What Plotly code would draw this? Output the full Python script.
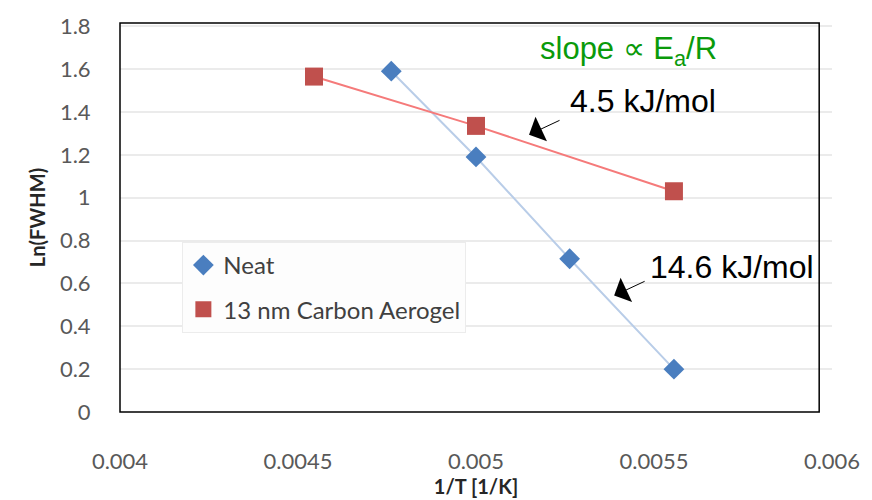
import plotly.graph_objects as go

neat_x = [0.004762, 0.005, 0.005263, 0.005556]
neat_y = [1.59, 1.19, 0.715, 0.2]
aero_x = [0.004545, 0.005, 0.005556]
aero_y = [1.565, 1.335, 1.03]

x_ticks = [0.004, 0.0045, 0.005, 0.0055, 0.006]
x_ticktext = ["0.004", "0.0045", "0.005", "0.0055", "0.006"]
y_ticks = [0, 0.2, 0.4, 0.6, 0.8, 1.0, 1.2, 1.4, 1.6, 1.8]
y_ticktext = ["0", "0.2", "0.4", "0.6", "0.8", "1", "1.2", "1.4", "1.6", "1.8"]

FONT = "Lato"
NEAT_C, NEAT_L = "#4a7ebf", "#b9cde8"
AERO_C, AERO_L = "#c0504d", "#f57a7a"

fig = go.Figure()
fig.add_trace(go.Scatter(
    x=neat_x, y=neat_y, name="Neat", mode="lines+markers", showlegend=False,
    line=dict(color=NEAT_L, width=2),
    marker=dict(symbol="diamond", size=16, color=NEAT_C),
))
fig.add_trace(go.Scatter(
    x=aero_x, y=aero_y, name="13 nm Carbon Aerogel", mode="lines+markers", showlegend=False,
    line=dict(color=AERO_L, width=2),
    marker=dict(symbol="square", size=18, color=AERO_C),
))
# legend entries (marker only, like the reference)
fig.add_trace(go.Scatter(x=[None], y=[None], name="Neat", mode="markers", legendgroup="a",
                         marker=dict(symbol="diamond", size=16, color=NEAT_C)))
fig.add_trace(go.Scatter(x=[None], y=[None], name="13 nm Carbon Aerogel", mode="markers", legendgroup="b",
                         marker=dict(symbol="square", size=18, color=AERO_C)))

fig.update_layout(
    width=872, height=500,
    margin=dict(l=120, r=33, t=16, b=83),
    paper_bgcolor="white", plot_bgcolor="white",
    font=dict(family=FONT, color="#595959"),
    showlegend=True,
    legend=dict(
        x=0.0876, y=0.437, xanchor="left", yanchor="top",
        bgcolor="#fdfdfd", bordercolor="#ececec", borderwidth=1,
        font=dict(family=FONT, size=24, color="#404040"),
        tracegroupgap=10, itemwidth=30,
    ),
    xaxis=dict(
        range=[0.004, 0.006], tickvals=x_ticks, ticktext=x_ticktext,
        showgrid=False, zeroline=False, showline=False,
        tickfont=dict(family=FONT, size=22, color="#595959"),
        ticks="outside", ticklen=30, tickcolor="rgba(0,0,0,0)",
        title=dict(text="<b>1/T [1/K]</b>", font=dict(family=FONT, size=20, color="#262626"), standoff=0),
    ),
    yaxis=dict(
        range=[0, 1.815], tickvals=y_ticks, ticktext=y_ticktext,
        showgrid=True, gridcolor="#ebebeb", gridwidth=1.5, zeroline=False, showline=False,
        tickfont=dict(family=FONT, size=22, color="#595959"),
        ticks="outside", ticklen=24, tickcolor="rgba(0,0,0,0)",
        title=dict(text="<b>Ln(FWHM)</b>", font=dict(family=FONT, size=20, color="#262626"), standoff=8),
    ),
    shapes=[dict(type="rect", xref="paper", yref="paper", x0=0, x1=0.982, y0=0, y1=1,
                 line=dict(color="black", width=1.5))],
    annotations=[
        dict(x=0.005427, y=1.683, xref="x", yref="y", showarrow=False,
             text="slope \u221d E<sub>a</sub>/R", font=dict(family="Liberation Sans", size=31, color="#0a9a0a")),
        dict(x=0.005470, y=1.45, xref="x", yref="y", showarrow=False,
             text="4.5 kJ/mol", font=dict(family="Liberation Sans", size=32, color="black")),
        dict(x=0.005718, y=0.675, xref="x", yref="y", showarrow=False,
             text="14.6 kJ/mol", font=dict(family="Liberation Sans", size=32, color="black")),
        dict(x=0.005149, y=1.294, xref="x", yref="y", text="", showarrow=True,
             ax=32, ay=-15, arrowhead=1, arrowsize=4.5, arrowwidth=1, arrowcolor="black"),
        dict(x=0.005388, y=0.543, xref="x", yref="y", text="", showarrow=True,
             ax=32, ay=-15, arrowhead=1, arrowsize=4.5, arrowwidth=1, arrowcolor="black"),
    ],
)

fig.write_html("out.html")
